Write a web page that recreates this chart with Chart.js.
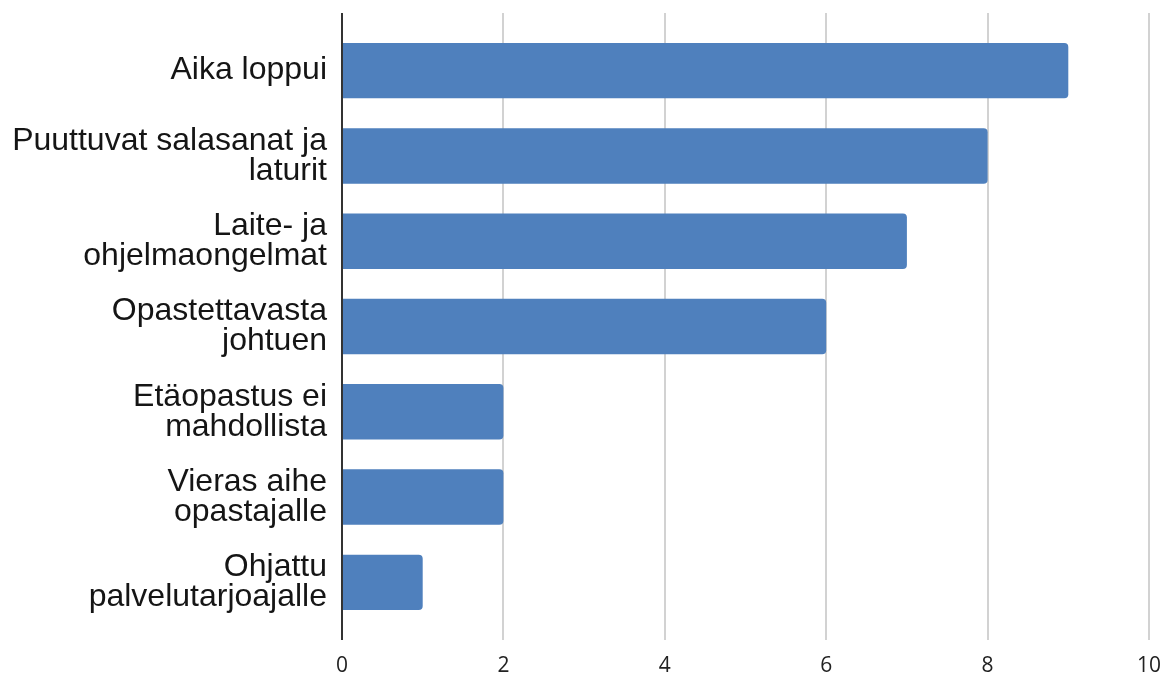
<!DOCTYPE html>
<html>
<head>
<meta charset="utf-8">
<script src="https://cdn.jsdelivr.net/npm/chart.js@4/dist/chart.umd.min.js"></script>
<style>
  html, body { margin: 0; padding: 0; background: #fff; }
  #wrap { width: 1165px; height: 676px; }
</style>
</head>
<body>
<div id="wrap"><canvas id="chart"></canvas></div>
<script>
const categories = [
  "Aika loppui",
  ["Puuttuvat salasanat ja", "laturit"],
  ["Laite- ja", "ohjelmaongelmat"],
  ["Opastettavasta", "johtuen"],
  ["Etäopastus ei", "mahdollista"],
  ["Vieras aihe", "opastajalle"],
  ["Ohjattu", "palvelutarjoajalle"],
];
const counts = [9, 8, 7, 6, 2, 2, 1];
const xMin = 0;
const xMax = 10;
const xStep = 2;

const barColor = "#4f80bd";
const gridColor = "#d2d2d2";
const axisColor = "#333333";

const lineColor = (ctx) => (ctx.tick && ctx.tick.value === 0 ? axisColor : gridColor);
const noSidePadding = (scale) => {
  scale.paddingLeft = 0;
  scale.paddingRight = 0;
};

new Chart(document.getElementById("chart"), {
  type: "bar",
  data: {
    labels: categories,
    datasets: [
      {
        data: counts,
        backgroundColor: barColor,
        borderRadius: 4,
        borderSkipped: "start",
        categoryPercentage: 1,
        barPercentage: 0.65,
      },
    ],
  },
  options: {
    indexAxis: "y",
    responsive: true,
    maintainAspectRatio: false,
    animation: false,
    layout: { padding: { top: 13, left: 10, right: 16, bottom: -17 } },
    plugins: {
      legend: { display: false },
      tooltip: { enabled: false },
    },
    scales: {
      x: {
        min: xMin,
        max: xMax,
        afterFit: noSidePadding,
        ticks: {
          stepSize: xStep,
          padding: 16,
          color: "#222",
          font: { family: "'Open Sans', sans-serif", size: 21, lineHeight: 1 },
        },
        grid: {
          color: gridColor,
          lineWidth: 2,
          tickLength: 15,
          tickColor: lineColor,
        },
        border: { display: false },
      },
      x2: {
        position: "top",
        min: xMin,
        max: xMax,
        afterFit: noSidePadding,
        ticks: { stepSize: xStep, display: false },
        grid: {
          drawOnChartArea: false,
          lineWidth: 2,
          tickLength: 15,
          tickColor: lineColor,
        },
        border: { display: false },
      },
      y: {
        afterFit: (scale) => {
          scale.width = 332;
          scale.paddingTop = 0;
          scale.paddingBottom = 0;
        },
        ticks: {
          padding: 15,
          color: "#151515",
          font: { family: "'Liberation Sans', Arial, sans-serif", size: 32, lineHeight: "30px" },
        },
        grid: { display: false, drawTicks: false },
        border: { display: true, color: axisColor, width: 2 },
      },
    },
  },
});
</script>
</body>
</html>
